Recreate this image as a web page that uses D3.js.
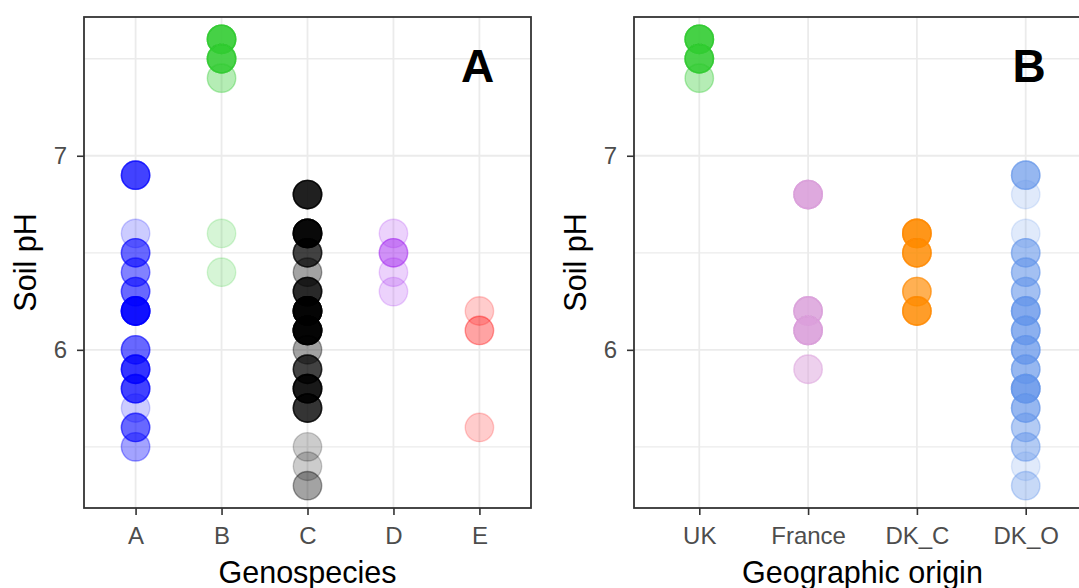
<!DOCTYPE html>
<html>
<head>
<meta charset="utf-8">
<script src="https://cdn.jsdelivr.net/npm/d3@7"></script>
<style>
  body { margin: 0; background: #fff; }
  svg { display: block; font-family: "Liberation Sans", Arial, sans-serif; }
</style>
</head>
<body>
<svg id="chart" width="1079" height="588"></svg>
<script>
// categories and axis ticks
var genoCats = ['A', 'B', 'C', 'D', 'E'];
var originCats = ['UK', 'France', 'DK_C', 'DK_O'];
var phMajor = [6, 7];
var phMinor = [5.5, 6.5, 7.5];
var phRange = [5.3, 7.6];

var genoColors = ['#0000FF', '#32CD32', '#000000', '#A020F0', '#FF0000'];
var originColors = ['#32CD32', '#DDA0DD', '#FF8C00', '#6495ED'];

var genoA = [[6.9, 6], [6.6, 1], [6.5, 4], [6.4, 3], [6.3, 4], [6.2, 12], [6.0, 4], [5.9, 7], [5.8, 6], [5.7, 1], [5.6, 4], [5.5, 2]];
var genoB = [[7.6, 10], [7.5, 9], [7.4, 2], [6.6, 1], [6.4, 1]];
var genoC = [[6.8, 9], [6.6, 14], [6.5, 6], [6.4, 2], [6.3, 8], [6.2, 16], [6.1, 16], [6.0, 2], [5.9, 6], [5.8, 10], [5.7, 7], [5.5, 1], [5.4, 1], [5.3, 2]];
var genoD = [[6.6, 1], [6.5, 3], [6.4, 1], [6.3, 1]];
var genoE = [[6.2, 1], [6.1, 2], [5.6, 1]];

var originUK = [[7.6, 10], [7.5, 9], [7.4, 2]];
var originFrance = [[6.8, 10], [6.2, 8], [6.1, 10], [5.9, 3]];
var originDKC = [[6.6, 10], [6.5, 8], [6.3, 5], [6.2, 8]];
var originDKO = [[6.9, 5], [6.8, 1], [6.6, 1], [6.5, 4], [6.4, 4], [6.3, 4], [6.2, 7], [6.1, 6], [6.0, 6], [5.9, 5], [5.8, 9], [5.7, 5], [5.6, 3], [5.5, 3], [5.4, 1], [5.3, 2]];

var svg = d3.select('#chart');
var plotTop = 17, plotBottom = 508;

function expandRange(r) {
	var pad = (r[1] - r[0]) * 0.05;
	return [r[0] - pad, r[1] + pad];
}

var y = d3.scaleLinear().domain(expandRange(phRange)).range([plotBottom, plotTop]);

function drawPanel(opt) {
	var x = d3.scalePoint().domain(opt.cats).range([opt.left, opt.right]).padding(0.6);
	var g = svg.append('g');

	// grid
	g.selectAll('line.minor').data(phMinor).enter().append('line')
		.attr('x1', opt.left).attr('x2', opt.right)
		.attr('y1', function (d) { return y(d); }).attr('y2', function (d) { return y(d); })
		.attr('stroke', '#EBEBEB').attr('stroke-width', 1.3);
	g.selectAll('line.major').data(phMajor).enter().append('line')
		.attr('x1', opt.left).attr('x2', opt.right)
		.attr('y1', function (d) { return y(d); }).attr('y2', function (d) { return y(d); })
		.attr('stroke', '#EBEBEB').attr('stroke-width', 1.8);
	g.selectAll('line.vgrid').data(opt.cats).enter().append('line')
		.attr('y1', plotTop).attr('y2', plotBottom)
		.attr('x1', function (d) { return x(d); }).attr('x2', function (d) { return x(d); })
		.attr('stroke', '#EBEBEB').attr('stroke-width', 1.8);

	// points: one circle per strain, stacked with alpha
	var pts = [];
	opt.groups.forEach(function (grp, i) {
		grp.forEach(function (p) {
			for (var k = 0; k < p[1]; k++) {
				pts.push({ cat: opt.cats[i], ph: p[0], color: opt.colors[i] });
			}
		});
	});
	g.selectAll('circle').data(pts).enter().append('circle')
		.attr('cx', function (d) { return x(d.cat); })
		.attr('cy', function (d) { return y(d.ph); })
		.attr('r', 14.2)
		.attr('fill', function (d) { return d.color; })
		.attr('fill-opacity', 0.2)
		.attr('stroke', function (d) { return d.color; })
		.attr('stroke-opacity', 0.2)
		.attr('stroke-width', 1.4);

	// border
	g.append('rect')
		.attr('x', opt.left).attr('y', plotTop)
		.attr('width', opt.right - opt.left).attr('height', plotBottom - plotTop)
		.attr('fill', 'none').attr('stroke', '#333333').attr('stroke-width', 1.8);

	// axes
	var yAxis = d3.axisLeft(y).tickValues(phMajor).tickSize(7).tickPadding(10).tickFormat(d3.format('d'));
	var yg = g.append('g').attr('transform', 'translate(' + opt.left + ',0)').call(yAxis);
	var xAxis = d3.axisBottom(x).tickSize(7).tickPadding(12);
	var xg = g.append('g').attr('transform', 'translate(0,' + plotBottom + ')').call(xAxis);
	[yg, xg].forEach(function (a) {
		a.select('.domain').remove();
		a.selectAll('.tick line').attr('stroke', '#333333').attr('stroke-width', 1.6);
		a.selectAll('.tick text').attr('fill', '#4D4D4D').attr('font-size', 24)
			.attr('font-family', '"Liberation Sans", Arial, sans-serif');
	});

	// titles
	g.append('text')
		.attr('x', (opt.left + opt.right) / 2).attr('y', 583)
		.attr('text-anchor', 'middle').attr('font-size', 30.5).attr('fill', '#000')
		.text(opt.xTitle);
	g.append('text')
		.attr('transform', 'translate(' + (opt.left - 48) + ',' + ((plotTop + plotBottom) / 2) + ') rotate(-90)')
		.attr('text-anchor', 'middle').attr('font-size', 30.5).attr('fill', '#000')
		.text('Soil pH');
	g.append('text')
		.attr('x', opt.labelX).attr('y', 82)
		.attr('text-anchor', 'middle').attr('font-size', 46).attr('font-weight', 'bold')
		.attr('fill', '#000')
		.text(opt.label);
}

drawPanel({
	left: 84, right: 531, cats: genoCats, colors: genoColors,
	groups: [genoA, genoB, genoC, genoD, genoE],
	xTitle: 'Genospecies', label: 'A', labelX: 477.5
});
drawPanel({
	left: 634, right: 1091, cats: originCats, colors: originColors,
	groups: [originUK, originFrance, originDKC, originDKO],
	xTitle: 'Geographic origin', label: 'B', labelX: 1029
});
</script>
</body>
</html>
